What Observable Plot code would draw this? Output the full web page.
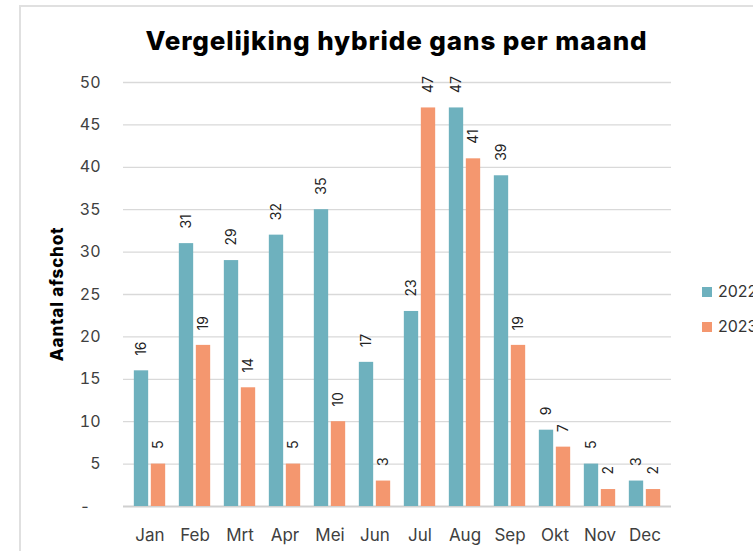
<!DOCTYPE html>
<html>
<head>
<meta charset="utf-8">
<script src="https://cdn.jsdelivr.net/npm/d3@7"></script>
<script src="https://cdn.jsdelivr.net/npm/@observablehq/plot@0.6"></script>
<style>
  html, body { margin: 0; padding: 0; background: #fff; overflow: hidden; }
  #wrap { position: relative; width: 753px; height: 551px; overflow: hidden; font-family: Inter, "Open Sans", sans-serif; }
  #frame { position: absolute; left: 19px; top: 5px; width: 800px; height: 600px; border-left: 2px solid #e0e0e0; border-top: 2px solid #e0e0e0; }
  #title { position: absolute; left: 0; width: 793px; top: 25px; text-align: center; font-size: 26px; font-weight: 800; color: #000; letter-spacing: 0.9px; }
  #ylabel { position: absolute; left: 57px; top: 294px; transform: translate(-50%, -50%) rotate(-90deg); white-space: nowrap; font-size: 17px; font-weight: 800; letter-spacing: 0.8px; color: #000; }
  .leg { position: absolute; left: 702px; font-size: 16px; color: #333; white-space: nowrap; }
  .leg span.sw { display: inline-block; width: 10px; height: 10px; margin-right: 6px; }
  #chart { position: absolute; left: 0; top: 0; }
</style>
</head>
<body>
<div id="wrap">
  <div id="frame"></div>
  <div id="chart"></div>
  <div id="title">Vergelijking hybride gans per maand</div>
  <div id="ylabel">Aantal afschot</div>
  <div class="leg" id="leg1" style="top:281px"></div>
  <div class="leg" id="leg2" style="top:316px"></div>
</div>
<script>
const months = ["Jan","Feb","Mrt","Apr","Mei","Jun","Jul","Aug","Sep","Okt","Nov","Dec"];
const values2022 = [16,31,29,32,35,17,23,47,39,9,5,3];
const values2023 = [5,19,14,5,10,3,47,41,19,7,2,2];
const series = ["2022","2023"];
const colors = ["#6eb1be","#f4976f"];
const yTicks = [0,5,10,15,20,25,30,35,40,45,50];

const d22 = months.map((m,i) => ({month: m, value: values2022[i]}));
const d23 = months.map((m,i) => ({month: m, value: values2023[i]}));

const plot = Plot.plot({
  width: 753,
  height: 551,
  marginLeft: 123,
  marginRight: 82,
  marginTop: 82,
  marginBottom: 45,
  style: { fontFamily: 'Inter, "Open Sans", sans-serif', fontSize: "16px", color: "#404040", background: "transparent" },
  x: { domain: months, padding: 0, label: null, tickSize: 0, tickPadding: 22 },
  y: { domain: [0, 50], ticks: yTicks, tickFormat: d => d === 0 ? "-\u2007" : String(d), tickSize: 0, tickPadding: 23, label: null },
  marks: [
    Plot.ruleY(yTicks.slice(1), { stroke: "#d9d9d9", strokeWidth: 1.3 }),
    Plot.ruleY([0], { stroke: "#d0d0d0", strokeWidth: 2 }),
    Plot.barY(d22, { x: "month", y: "value", fill: colors[0], insetLeft: 6.83, insetRight: 23.83 }),
    Plot.barY(d23, { x: "month", y: "value", fill: colors[1], insetLeft: 23.83, insetRight: 6.83 }),
    Plot.text(d22, { x: "month", y: "value", text: d => String(d.value), rotate: -90, textAnchor: "start", dx: -8.5, dy: -15, fontSize: 14, fill: "#222" }),
    Plot.text(d23, { x: "month", y: "value", text: d => String(d.value), rotate: -90, textAnchor: "start", dx: 8.5, dy: -15, fontSize: 14, fill: "#222" })
  ]
});
plot.querySelectorAll('g[aria-label="x-axis tick label"]').forEach(el => el.setAttribute("font-size", "17"));
document.getElementById("chart").appendChild(plot);

[["leg1",0],["leg2",1]].forEach(([id,i]) => {
  const el = document.getElementById(id);
  el.innerHTML = '<span class="sw" style="background:' + colors[i] + '"></span>' + series[i];
});
</script>
</body>
</html>
